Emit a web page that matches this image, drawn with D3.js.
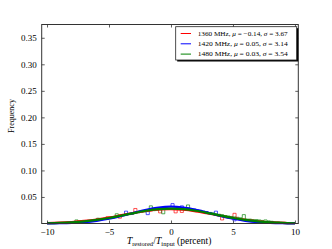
<!DOCTYPE html>
<html>
<head>
<meta charset="utf-8">
<script src="https://cdn.jsdelivr.net/npm/d3@7"></script>
<style>
  body { margin: 0; background: #fff; }
  text { font-family: "Liberation Serif", "DejaVu Serif", serif; fill: #000; }
</style>
</head>
<body>
<svg id="chart" width="332" height="249"></svg>
<script>
// series labels / fit parameters (from legend)
const seriesNames = ['1360 MHz', '1420 MHz', '1480 MHz'];
const seriesMu = ['\u22120.14', '0.05', '0.03'];
const seriesSigma = ['3.67', '3.14', '3.54'];
const seriesColors = ['#ff0000', '#0000ff', '#008000'];

// histogram bins: 80 bins of 0.25 from -10 to 10
const binStart = -10;
const binWidth = 0.25;

const redHist = [0, 0, 0.0008, 0.0008, 0.0017, 0.0017, 0.0025, 0.0017,
  0.0025, 0.0033, 0.0042, 0.0033, 0.005, 0.0058, 0.0058, 0.0075,
  0.0083, 0.0075, 0.0092, 0.0128, 0.0125, 0.0117, 0.0142, 0.01,
  0.0167, 0.0175, 0.0192, 0.0183, 0.0283, 0.0217, 0.0225, 0.0242,
  0.025, 0.0233, 0.0267, 0.0258, 0.02, 0.0275, 0.0283, 0.0267,
  0.0275, 0.02, 0.0267, 0.0208, 0.0258, 0.025, 0.0242, 0.0233,
  0.0225, 0.0217, 0.0208, 0.0192, 0.0183, 0.0175, 0.0158, 0.015,
  0.0067, 0.0142, 0.0125, 0.0117, 0.0192, 0.01, 0.0092, 0.0083,
  0.0075, 0.0067, 0.0058, 0.005, 0.0042, 0.0042, 0.0033, 0.0025,
  0.0025, 0.0017, 0.0017, 0.0008, 0.0025, 0.0008, 0, 0];

const blueHist = [0, 0, 0, 0, 0, 0.0008, 0, 0.0008,
  0.0008, 0.0017, 0.0017, 0.0025, 0.0025, 0.0033, 0.0042, 0.0042,
  0.0058, 0.0067, 0.0075, 0.0083, 0.0092, 0.0108, 0.0125, 0.0133,
  0.015, 0.0233, 0.0175, 0.0183, 0.0208, 0.0225, 0.0233, 0.0242,
  0.0167, 0.0267, 0.0283, 0.0292, 0.03, 0.03, 0.0308, 0.0317,
  0.0375, 0.0317, 0.0308, 0.0333, 0.03, 0.0292, 0.0283, 0.0275,
  0.0258, 0.025, 0.0233, 0.0225, 0.0208, 0.0192, 0.0233, 0.0167,
  0.015, 0.0133, 0.0125, 0.0108, 0.005, 0.0083, 0.0075, 0.0058,
  0.005, 0.0042, 0.0033, 0.0033, 0.0025, 0.0025, 0.0017, 0.0017,
  0.0033, 0.0008, 0.0008, 0.0008, 0, 0.0008, 0, 0];

const greenHist = [0, 0, 0.0008, 0.0008, 0.0008, 0.0017, 0.0017, 0.0017,
  0.0025, 0.0067, 0.0025, 0.0033, 0.0042, 0.005, 0.0058, 0.0067,
  0.01, 0.0075, 0.0083, 0.0092, 0.0108, 0.0117, 0.0183, 0.0133,
  0.015, 0.0158, 0.0167, 0.0175, 0.0192, 0.02, 0.0208, 0.0217,
  0.0225, 0.0333, 0.0242, 0.025, 0.0258, 0.0183, 0.0275, 0.0275,
  0.0283, 0.0275, 0.0275, 0.0267, 0.0267, 0.035, 0.0258, 0.025,
  0.0242, 0.0233, 0.0225, 0.0217, 0.0208, 0.02, 0.0183, 0.0175,
  0.0167, 0.015, 0.0142, 0.0133, 0.0125, 0.0117, 0.0108, 0.0167,
  0.0083, 0.0083, 0.0075, 0.0075, 0.0067, 0.0058, 0.0067, 0.005,
  0.0042, 0.0033, 0.0033, 0.0025, 0.0017, 0.0017, 0.0008, 0.0008];

// gaussian fit curves, sampled at integer x
const fitX = [-10, -9, -8, -7, -6, -5, -4, -3, -2, -1, 0, 1, 2, 3, 4, 5, 6, 7, 8, 9, 10];
const redFit = [0.0007, 0.0015, 0.0028, 0.0048, 0.0076, 0.0113, 0.0157, 0.0201, 0.0239, 0.0265, 0.0272,
  0.0259, 0.0229, 0.0189, 0.0144, 0.0102, 0.0067, 0.0041, 0.0023, 0.0012, 0.0006];
const blueFit = [0.0002, 0.0005, 0.0012, 0.0026, 0.0051, 0.0089, 0.0141, 0.0201, 0.026, 0.0302, 0.0318,
  0.0302, 0.026, 0.0201, 0.0141, 0.0089, 0.0051, 0.0026, 0.0012, 0.0005, 0.0002];
const greenFit = [0.0005, 0.0011, 0.0022, 0.004, 0.0067, 0.0104, 0.0149, 0.0197, 0.024, 0.0271, 0.0282,
  0.0271, 0.024, 0.0197, 0.0149, 0.0104, 0.0067, 0.004, 0.0022, 0.0011, 0.0005];

const xTicks = [-10, -5, 0, 5, 10];
const yTicks = [0.05, 0.10, 0.15, 0.20, 0.25, 0.30, 0.35];

const hists = [redHist, blueHist, greenHist];
const fits = [redFit, blueFit, greenFit];

const margin = { top: 24.5, right: 33.7, bottom: 25.5, left: 41.7 };
const W = 332, H = 249;
const svg = d3.select('#chart');

const x = d3.scaleLinear().domain([-10.43, 10.27]).range([margin.left, W - margin.right]);
const y = d3.scaleLinear().domain([0, 0.375]).range([H - margin.bottom, margin.top]);

const plot = svg.append('g');

// step histograms
const stepLine = d3.line()
  .x(d => x(d[0]))
  .y(d => y(d[1]))
  .curve(d3.curveStepAfter);

hists.forEach((h, i) => {
  const pts = [[binStart, 0]];
  h.forEach((v, k) => pts.push([binStart + k * binWidth, v]));
  const end = binStart + h.length * binWidth;
  pts.push([end, h[h.length - 1]]);
  pts.push([end, 0]);
  plot.append('path')
    .attr('d', stepLine(pts))
    .attr('fill', 'none')
    .attr('stroke', seriesColors[i])
    .attr('stroke-opacity', 0.75)
    .attr('stroke-width', 0.9);
});

// fit curves
const fitLine = d3.line()
  .x((d, k) => x(fitX[k]))
  .y(d => y(d))
  .curve(d3.curveCatmullRom);

fits.forEach((f, i) => {
  plot.append('path')
    .attr('d', fitLine(f))
    .attr('fill', 'none')
    .attr('stroke', seriesColors[i])
    .attr('stroke-width', 2.2);
});

// axes (ticks inward on all sides)
const fmtY = d3.format('.2f');
const gx = svg.append('g')
  .attr('transform', `translate(0,${H - margin.bottom})`)
  .call(d3.axisBottom(x).tickValues(xTicks).tickSize(-3).tickPadding(3));
const gxTop = svg.append('g')
  .attr('transform', `translate(0,${margin.top})`)
  .call(d3.axisTop(x).tickValues(xTicks).tickSize(-3).tickFormat(''));
const gy = svg.append('g')
  .attr('transform', `translate(${margin.left},0)`)
  .call(d3.axisLeft(y).tickValues(yTicks).tickSize(-3).tickPadding(5).tickFormat(fmtY));
const gyRight = svg.append('g')
  .attr('transform', `translate(${W - margin.right},0)`)
  .call(d3.axisRight(y).tickValues(yTicks).tickSize(-3).tickFormat(''));

[gx, gxTop, gy, gyRight].forEach(g => {
  g.select('.domain').remove();
  g.selectAll('.tick line').attr('stroke', '#333').attr('stroke-width', 0.8);
  g.selectAll('.tick text')
    .style('font-family', '"Liberation Serif", "DejaVu Serif", serif')
    .style('font-size', '9px')
    .attr('fill', '#222');
});
gx.selectAll('.tick text').attr('dy', '0.9em');

// frame
svg.append('rect')
  .attr('x', margin.left)
  .attr('y', margin.top)
  .attr('width', W - margin.left - margin.right)
  .attr('height', H - margin.top - margin.bottom)
  .attr('fill', 'none')
  .attr('stroke', '#333')
  .attr('stroke-width', 1);

// axis labels
svg.append('text')
  .attr('transform', `translate(14,116) rotate(-90)`)
  .attr('text-anchor', 'middle')
  .style('font-size', '8px')
  .text('Frequency');

const xl = svg.append('text')
  .attr('x', 169)
  .attr('y', 244)
  .attr('text-anchor', 'middle')
  .style('font-size', '9.5px');
xl.append('tspan').attr('font-style', 'italic').style('font-size', '10px').text('T');
xl.append('tspan').attr('dy', 1.8).style('font-size', '6.5px').text('restored');
xl.append('tspan').attr('dy', -1.8).text('/');
xl.append('tspan').attr('font-style', 'italic').style('font-size', '10px').text('T');
xl.append('tspan').attr('dy', 1.8).style('font-size', '6.5px').text('input');
xl.append('tspan').attr('dy', -1.8).text(' (percent)');

// legend
const lg = svg.append('g').attr('transform', 'translate(175.7,26.7)');
const lgW = 121, lgH = 33.3;
lg.append('rect')
  .attr('x', 1.5).attr('y', 1.5)
  .attr('width', lgW).attr('height', lgH)
  .attr('fill', '#000');
lg.append('rect')
  .attr('width', lgW).attr('height', lgH)
  .attr('fill', '#fff')
  .attr('stroke', '#222')
  .attr('stroke-width', 0.8);

seriesNames.forEach((name, i) => {
  const yy = 6.8 + i * 10.3;
  lg.append('line')
    .attr('x1', 5).attr('x2', 15.3)
    .attr('y1', yy).attr('y2', yy)
    .attr('stroke', seriesColors[i])
    .attr('stroke-width', 1);
  const t = lg.append('text')
    .attr('x', 22)
    .attr('y', yy + 2.3)
    .attr('textLength', 90)
    .attr('lengthAdjust', 'spacingAndGlyphs')
    .style('font-size', '7px');
  t.append('tspan').text(`${name}, `);
  t.append('tspan').attr('font-style', 'italic').text('\u03bc');
  t.append('tspan').text(` = ${seriesMu[i]}, `);
  t.append('tspan').attr('font-style', 'italic').text('\u03c3');
  t.append('tspan').text(` = ${seriesSigma[i]}`);
});
</script>
</body>
</html>
